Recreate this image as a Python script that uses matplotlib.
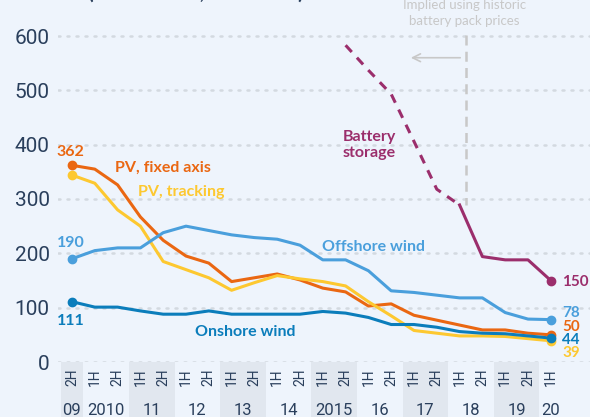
import matplotlib
matplotlib.use("Agg")
from matplotlib import pyplot as plt

# datos (USD/MWh)
semestres = ['2H', '1H', '2H', '1H', '2H', '1H', '2H', '1H', '2H', '1H', '2H',
             '1H', '2H', '1H', '2H', '1H', '2H', '1H', '2H', '1H', '2H', '1H']
anios = ['09', '2010', '11', '12', '13', '14', '2015', '16', '17', '18', '19', '20']

pv_fijo = [362, 355, 326, 267, 224, 195, 182, 148, 155, 162, 151, 136, 129, 103,
           107, 86, 77, 68, 59, 59, 53, 50]
pv_tracking = [344, 329, 280, 250, 185, 170, 155, 132, 146, 159, 153, 148, 140, 111,
               85, 58, 53, 48, 48, 47, 43, 39]
eolica_offshore = [190, 205, 210, 210, 238, 250, 242, 234, 229, 226, 215, 188, 188, 168,
                   131, 128, 123, 118, 118, 91, 79, 78]
eolica_onshore = [111, 101, 101, 94, 88, 88, 94, 88, 88, 88, 88, 93, 90, 82,
                  69, 69, 64, 56, 53, 52, 48, 44]
# bateria: implicita (punteada) desde 2H 2015 hasta 1H 2018, luego real
bateria_implicita = [583, 537, 493, 406, 318, 289]
bateria = [289, 194, 188, 188, 150]

FONDO = '#EEF4FC'
BANDA = '#E1E7EF'
AZUL_TEXTO = '#2A3F5C'
NARANJA = '#EA6712'
AMARILLO = '#FDC830'
CELESTE = '#4A9FDC'
AZUL = '#0B7DBB'
BORDO = '#9B2E6C'
GRIS = '#C8C8C8'

plt.rcParams['font.family'] = ['Lato', 'DejaVu Sans']
EJES = ['Roboto', 'DejaVu Sans']

fig = plt.figure(figsize=(5.9, 4.17), dpi=100)
fig.patch.set_facecolor(FONDO)
ax = fig.add_axes([58 / 590, 55 / 417, 532 / 590, 358.6 / 417])
ax.set_facecolor(FONDO)

x = list(range(len(semestres)))
ax.set_xlim(-0.614, 22.72)
ax.set_ylim(0, 660)

# grilla punteada
for v in range(0, 700, 100):
    ax.axhline(v, color='#D3D9E0', lw=1.8, linestyle=(0, (0.8, 2.8)),
               dash_capstyle='round', zorder=0)

ax.set_yticks(range(0, 700, 100))
ax.set_yticklabels([str(v) for v in range(0, 700, 100)], fontsize=15,
                   color=AZUL_TEXTO, family=EJES)
ax.tick_params(axis='y', length=0, pad=6)
ax.set_xticks([])
for s in ax.spines.values():
    s.set_visible(False)

# agrupar semestres por anio
grupos = []
for i, s in enumerate(semestres):
    if i == 0 or s == '1H':
        grupos.append([i])
    else:
        grupos[-1].append(i)

trans = ax.get_xaxis_transform()
for k, (anio, g) in enumerate(zip(anios, grupos)):
    if k % 2 == 0:
        ax.axvspan(g[0] - 0.5, g[-1] + 0.5, ymin=-0.16, ymax=0, color=BANDA,
                   clip_on=False, zorder=0, lw=0)
    ax.text(sum(g) / len(g), -0.134, anio, transform=trans, ha='center',
            va='center', fontsize=12, color=AZUL_TEXTO, family=EJES)
for i, s in enumerate(semestres):
    ax.text(i, -0.042, s, transform=trans, ha='center', va='center', rotation=90,
            fontsize=10, color=AZUL_TEXTO, family=EJES)

# lineas
lw = 2.2
series = [(pv_fijo, NARANJA), (pv_tracking, AMARILLO),
          (eolica_offshore, CELESTE), (eolica_onshore, AZUL)]
for datos, color in series:
    ax.plot(x, datos, color=color, lw=lw, zorder=3)
    ax.plot([x[0], x[-1]], [datos[0], datos[-1]], 'o', color=color, ms=6, zorder=4)

x_bat = x[-len(bateria_implicita) - len(bateria) + 1:]
ax.plot(x_bat[:len(bateria_implicita)], bateria_implicita, color=BORDO, lw=lw,
        linestyle=(0, (3, 2.5)), zorder=3)
ax.plot(x_bat[len(bateria_implicita) - 1:], bateria, color=BORDO, lw=lw, zorder=3)
ax.plot(x[-1], bateria[-1], 'o', color=BORDO, ms=6, zorder=4)

# anotacion precios historicos
ax.plot([17.28, 17.28], [602, bateria_implicita[-1]], color=GRIS, lw=1.8,
        linestyle=(0, (4, 2.5)), zorder=2)
ax.annotate('', xy=(14.74, 560), xytext=(17.15, 560),
            arrowprops=dict(arrowstyle='->', color=GRIS, lw=1.2,
                            mutation_scale=14))
ax.text(17.2, 642, 'Implied using historic\nbattery pack prices', ha='center',
        va='center', fontsize=9.5, color=GRIS, linespacing=1.35, clip_on=False)

# etiquetas
negrita = dict(fontweight='bold', fontsize=11.5, va='center', clip_on=False)
ax.text(-0.09, 386, str(pv_fijo[0]), color=NARANJA, ha='center', **negrita)
ax.text(-0.07, 219, str(eolica_offshore[0]), color=CELESTE, ha='center', **negrita)
ax.text(-0.04, 75, str(eolica_onshore[0]), color=AZUL, ha='center', **negrita)
ax.text(1.89, 357, 'PV, fixed axis', color=NARANJA, ha='left', **negrita)
ax.text(2.89, 313, 'PV, tracking', color=AMARILLO, ha='left', **negrita)
ax.text(10.96, 212, 'Offshore wind', color=CELESTE, ha='left', **negrita)
ax.text(5.39, 55, 'Onshore wind', color=AZUL, ha='left', **negrita)
ax.text(13.03, 399, 'Battery\nstorage', color=BORDO, ha='center',
        linespacing=1.15, **negrita)

x_fin = 21.49
fin = dict(negrita, fontsize=11)
ax.text(x_fin, 147, str(bateria[-1]), color=BORDO, ha='left', **fin)
ax.text(x_fin, 91, str(eolica_offshore[-1]), color=CELESTE, ha='left', **fin)
ax.text(x_fin, 64, str(pv_fijo[-1]), color=NARANJA, ha='left', **fin)
ax.text(x_fin, 40, str(eolica_onshore[-1]), color=AZUL, ha='left', **fin)
ax.text(x_fin, 16, str(pv_tracking[-1]), color=AMARILLO, ha='left', **fin)

# titulo (cortado arriba en el original)
fig.text(88 / 590, 1 + 1 / 417, '(USD/MWh, 2019 real)', ha='left', va='baseline',
         fontsize=15, fontweight='bold', color=AZUL_TEXTO)

fig.savefig('out.png', dpi=100, facecolor=FONDO)
